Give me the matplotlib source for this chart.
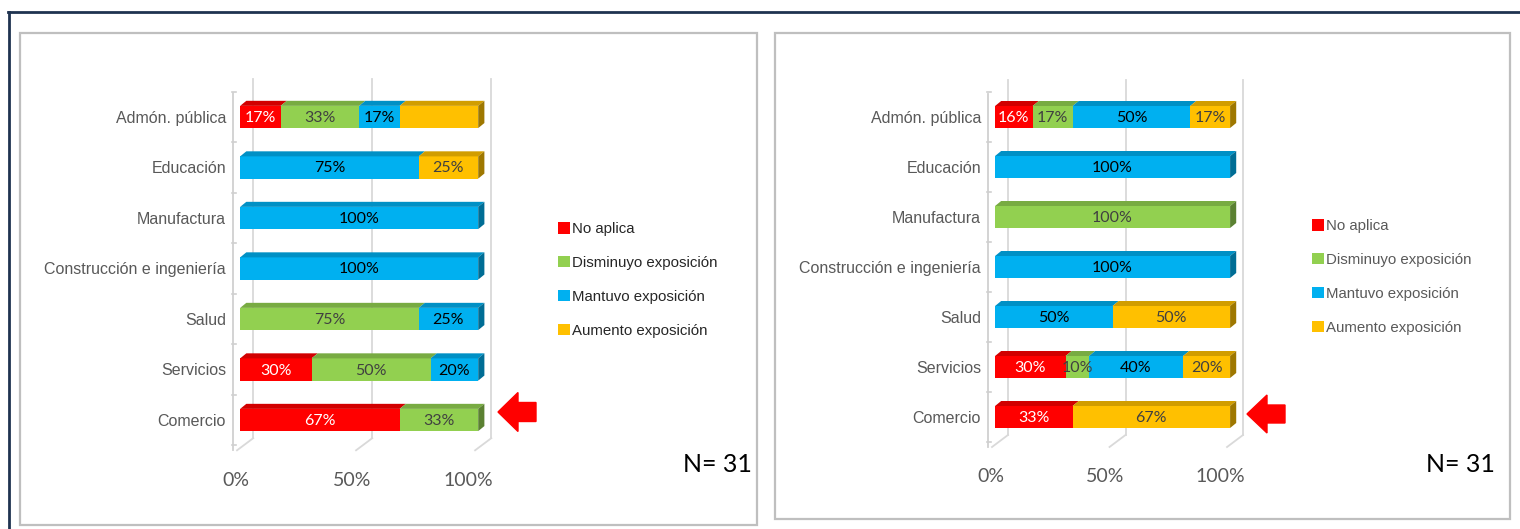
import matplotlib
matplotlib.use('Agg')
import matplotlib.pyplot as plt
import numpy as np
from matplotlib.patches import Polygon, Rectangle, FancyArrow, Patch
from matplotlib.lines import Line2D
import matplotlib.colors as mcolors
from matplotlib.transforms import ScaledTranslation

# ---------------- data ----------------
categories = ["Admón. pública", "Educación", "Manufactura",
              "Construcción e ingeniería", "Salud", "Servicios", "Comercio"]
series_names = ["No aplica", "Disminuyo exposición", "Mantuvo exposición", "Aumento exposición"]

left_no_aplica = [17, 0, 0, 0, 0, 30, 67]
left_disminuyo = [33, 0, 0, 0, 75, 50, 33]
left_mantuvo = [17, 75, 100, 100, 25, 20, 0]
left_aumento = [33, 25, 0, 0, 0, 0, 0]
left_hidden_labels = [(3, 0)]  # (series, category) without data label

right_no_aplica = [16, 0, 0, 0, 0, 30, 33]
right_disminuyo = [17, 0, 100, 0, 0, 10, 0]
right_mantuvo = [50, 100, 0, 100, 50, 40, 0]
right_aumento = [17, 0, 0, 0, 50, 20, 67]
right_hidden_labels = []

tick_values = [0, 50, 100]
tick_labels = ["0%", "50%", "100%"]
n_label = "N= 31"

# ---------------- style ----------------
colors = ["#FF0000", "#92D050", "#00B0F0", "#FFC000"]
legend_colors = ["#FF0000", "#92D050", "#00B0F0", "#FFC000"]
label_colors = ["white", "#404040", "black", "#404040"]
CAT_FONT = ["Liberation Sans", "DejaVu Sans"]
NUM_FONT = ["Lato", "DejaVu Sans"]
W, H = 1520, 529

fig = plt.figure(figsize=(W / 100, H / 100), dpi=100)
fig.patch.set_facecolor("white")


def darker(c, f):
    r, g, b = mcolors.to_rgb(c)
    return (r * f, g * f, b * f)


def draw_panel(ax, data, hidden):
    n = len(categories)
    ypos = np.arange(n)[::-1].astype(float)
    h, dx, dy = 0.44, 2.6, 0.10
    grid_c = "#D9D9D9"
    # back gridlines + floor
    for g in tick_values:
        ax.plot([g + 5.5, g + 5.5], [-0.36, 6.75], color=grid_c, lw=1.3, zorder=1, clip_on=False)
        ax.plot([g + 5.5, g - 1.3], [-0.36, -0.6], color=grid_c, lw=1.3, zorder=1, clip_on=False)
    # left axis line with ticks at category boundaries
    ax.plot([-3, -3], [-0.6, 6.47], color="#D0D0D0", lw=1.3, zorder=1, clip_on=False)
    for k in range(-1, n):
        ax.plot([-3.4, -1.7], [k + 0.5, k + 0.5], color="#D0D0D0", lw=1.2, zorder=1, clip_on=False)

    lefts = np.zeros(n)
    last_right = {}
    for i, vals in enumerate(data):
        vals = np.asarray(vals, dtype=float)
        ax.barh(ypos, vals, left=lefts, height=h, color=colors[i], edgecolor="none", zorder=3)
        for j in range(n):
            v = vals[j]
            if v <= 0:
                continue
            l = lefts[j]
            y = ypos[j]
            top = y + h / 2
            ax.add_patch(Polygon([(l, top), (l + dx, top + dy), (l + v + dx, top + dy), (l + v, top)],
                                 closed=True, facecolor=darker(colors[i], 0.82), edgecolor="none", zorder=3))
            last_right[j] = (l + v, i)
            if (i, j) not in hidden:
                ax.text(l + v / 2, y - 0.02, f"{int(v)}%", ha="center", va="center",
                        color=label_colors[i], fontsize=11.5, family=NUM_FONT, zorder=5)
        lefts = lefts + vals
    for j, (r, i) in last_right.items():
        y = ypos[j]
        ax.add_patch(Polygon([(r, y - h / 2), (r, y + h / 2), (r + dx, y + h / 2 + dy), (r + dx, y - h / 2 + dy)],
                             closed=True, facecolor=darker(colors[i], 0.62), edgecolor="none", zorder=3))

    ax.set_xlim(-3, 110)
    ax.set_ylim(-0.5, 6.75)
    for s in ax.spines.values():
        s.set_visible(False)
    ax.set_yticks(ypos)
    ax.set_yticklabels(categories, fontsize=11.5, color="#595959", family=CAT_FONT)
    ax.tick_params(axis="y", length=0, pad=5)
    ax.set_xticks(tick_values)
    ax.set_xticklabels(tick_labels, fontsize=14, color="#595959", family=NUM_FONT)
    ax.tick_params(axis="x", length=0, pad=19)
    for g, lab in zip(tick_values, ax.get_xticklabels()):
        shift = -(4 + 6 * g / 100) / 100.0
        lab.set_transform(lab.get_transform() + ScaledTranslation(shift, 0, fig.dpi_scale_trans))
    ax.patch.set_alpha(0)


# panel frames and outer border
fig.add_artist(Rectangle((0.20, 0.04), 7.37, 4.92, transform=fig.dpi_scale_trans,
                         fill=False, edgecolor="#BFBFBF", lw=1.6))
fig.add_artist(Rectangle((7.75, 0.10), 7.35, 4.86, transform=fig.dpi_scale_trans,
                         fill=False, edgecolor="#BFBFBF", lw=1.6))
fig.add_artist(Line2D([0.08, 15.2], [5.17, 5.17], transform=fig.dpi_scale_trans, color="#1F3350", lw=2.0))
fig.add_artist(Line2D([0.085, 0.085], [0.0, 5.17], transform=fig.dpi_scale_trans, color="#1F3350", lw=2.0))

# left panel
axL = fig.add_axes([233 / W, (H - 445.25) / H, 269 / W, (445.25 - 79.1) / H])
draw_panel(axL, [left_no_aplica, left_disminuyo, left_mantuvo, left_aumento], left_hidden_labels)

# right panel
axR = fig.add_axes([988 / W, (H - 442) / H, 265.6 / W, (442 - 79.5) / H])
draw_panel(axR, [right_no_aplica, right_disminuyo, right_mantuvo, right_aumento], right_hidden_labels)

# legends
handles = [Patch(facecolor=c, edgecolor="none") for c in legend_colors]
for (x0, y0, tc) in [(558, 222, "#262626"), (1312, 219, "#595959")]:
    fig.legend(handles=handles, labels=series_names, loc="upper left",
               bbox_to_anchor=(x0 / W, (H - y0) / H), frameon=False,
               handlelength=0.8, handleheight=0.8, handletextpad=0.1,
               labelspacing=1.33, borderpad=0, borderaxespad=0,
               prop={"family": CAT_FONT, "size": 10.8}, labelcolor=tc)

# N labels
fig.text(752 / W, (H - 465) / H, n_label, ha="right", va="center", fontsize=18, family=NUM_FONT, color="black")
fig.text(1495 / W, (H - 465) / H, n_label, ha="right", va="center", fontsize=18, family=NUM_FONT, color="black")

# red arrows
fig.add_artist(FancyArrow(5.36, (H - 412) / 100, -0.38, 0, width=0.19, head_width=0.39, head_length=0.20,
                          length_includes_head=True, color="#FF0000", transform=fig.dpi_scale_trans))
fig.add_artist(FancyArrow(12.85, (H - 414) / 100, -0.38, 0, width=0.18, head_width=0.38, head_length=0.20,
                          length_includes_head=True, color="#FF0000", transform=fig.dpi_scale_trans))

fig.savefig("out.png", dpi=100, facecolor="white")
